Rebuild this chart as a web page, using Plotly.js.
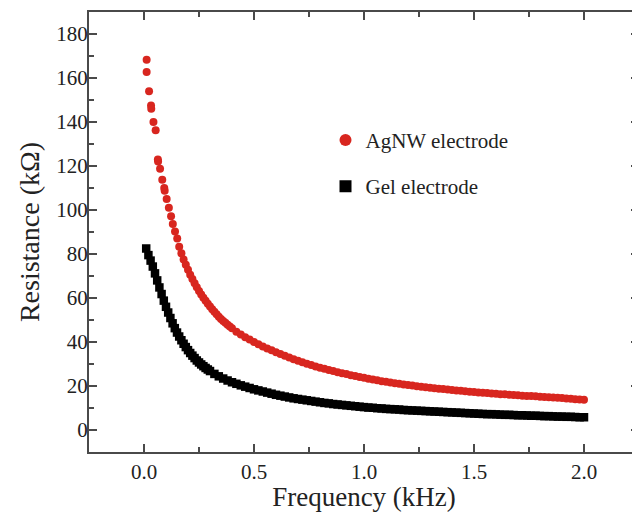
<!DOCTYPE html>
<html>
<head>
<meta charset="utf-8">
<script src="https://cdn.plot.ly/plotly-3.0.1.min.js"></script>
<style>
html,body{margin:0;padding:0;overflow:hidden;background:#fff;}
#chart{width:646px;height:512px;}
</style>
</head>
<body>
<div id="chart"></div>
<script>
// AgNW electrode (red circles)
const agnwFreq = [0.012,0.012,0.023,0.032,0.033,0.043,0.053,0.063,0.064,0.073,0.083,0.092,0.094,0.103,0.113,0.123,0.131,0.141,0.151,
0.16,0.17,0.18,0.19,0.20,0.21,0.22,0.23,0.24,0.25,0.26,0.27,0.28,0.29,0.30,0.31,0.32,0.33,0.34,0.35,0.36,0.37,0.38,0.39,0.40,
0.42,0.44,0.46,0.48,0.50,0.52,0.54,0.56,0.58,0.60,0.62,0.64,0.66,0.68,0.70,
0.72,0.74,0.76,0.78,0.80,0.82,0.84,0.86,0.88,0.90,0.92,0.94,0.96,0.98,1.00,1.02,1.04,1.06,1.08,1.10,1.12,1.14,1.16,1.18,1.20,1.22,1.24,1.26,
1.28,1.30,1.32,1.34,1.36,1.38,1.40,1.42,1.44,1.46,1.48,1.50,1.52,1.54,1.56,1.58,1.60,1.62,1.64,1.66,1.68,1.70,1.72,1.74,1.76,1.78,1.80,1.82,
1.84,1.86,1.88,1.90,1.92,1.94,1.96,1.98,2.00];
const agnwRes = [168.3,162.7,154.0,147.5,146.0,140.0,136.3,123.0,122.0,118.8,113.8,110.0,108.8,105.0,101.0,97.2,93.6,90.2,87.0,
83.3,80.3,77.5,75.1,72.8,70.6,68.6,66.7,64.9,63.2,61.6,60.1,58.7,57.4,56.1,54.9,53.7,52.6,51.5,50.5,49.6,48.7,47.8,47.0,46.2,
44.7,43.4,42.2,41.1,40.0,39.0,38.0,37.1,36.2,35.3,34.5,33.7,32.9,32.2,31.5,
30.8,30.1,29.5,28.9,28.3,27.8,27.3,26.8,26.3,25.8,25.4,24.9,24.5,24.1,23.7,23.3,22.9,22.6,22.2,21.9,21.6,21.3,21.0,20.7,20.4,20.2,19.9,19.7,
19.4,19.2,19.0,18.8,18.6,18.4,18.2,18.0,17.8,17.6,17.4,17.3,17.1,16.9,16.8,16.6,16.5,16.3,16.2,16.0,15.9,15.8,15.6,15.5,15.4,15.3,15.1,15.0,
14.9,14.8,14.7,14.5,14.3,14.2,14.0,13.9,13.8];

// Gel electrode (black squares)
const gelFreq = [0.01,0.02,0.03,0.04,0.05,0.06,0.07,0.08,0.09,0.10,0.11,0.12,0.13,0.14,0.15,0.16,0.17,0.18,0.19,0.20,
0.21,0.22,0.23,0.24,0.25,0.26,0.27,0.28,0.29,0.30,0.32,0.34,0.36,0.38,0.40,0.42,0.44,0.46,0.48,0.50,0.52,0.54,0.56,0.58,0.60,0.62,0.64,0.66,0.68,0.70,
0.72,0.74,0.76,0.78,0.80,0.82,0.84,0.86,0.88,0.90,0.92,0.94,0.96,0.98,1.00,1.02,1.04,1.06,1.08,1.10,1.12,1.14,1.16,1.18,1.20,1.22,1.24,1.26,
1.28,1.30,1.32,1.34,1.36,1.38,1.40,1.42,1.44,1.46,1.48,1.50,1.52,1.54,1.56,1.58,1.60,1.62,1.64,1.66,1.68,1.70,1.72,1.74,1.76,1.78,1.80,1.82,
1.84,1.86,1.88,1.90,1.92,1.94,1.96,1.98,2.00];
const gelRes = [82.5,79.5,77.0,74.3,71.2,68.0,64.8,61.8,58.8,56.0,53.4,50.9,48.5,46.3,44.3,42.5,40.8,39.2,37.7,36.3,
35.0,33.8,32.7,31.6,30.7,29.8,29.0,28.2,27.5,26.8,25.5,24.4,23.4,22.5,21.7,21.0,20.3,19.7,19.1,18.5,18.0,17.5,17.0,16.5,16.0,15.6,15.2,14.8,14.4,14.1,
13.8,13.5,13.2,12.9,12.6,12.3,12.1,11.8,11.6,11.4,11.2,11.0,10.8,10.6,10.4,10.2,10.1,9.9,9.8,9.6,9.5,9.4,9.3,9.1,9.0,8.9,8.8,8.7,
8.6,8.5,8.4,8.3,8.2,8.1,8.0,7.9,7.8,7.7,7.6,7.5,7.4,7.3,7.2,7.2,7.1,7.0,6.9,6.9,6.8,6.7,6.7,6.6,6.5,6.5,6.4,6.3,
6.3,6.2,6.1,6.1,6.0,6.0,5.9,5.8,5.8];

const xTickVals = [0.0, 0.5, 1.0, 1.5, 2.0];
const xTickText = ['0.0', '0.5', '1.0', '1.5', '2.0'];
const yTickVals = [0, 20, 40, 60, 80, 100, 120, 140, 160, 180];

const fam = '"Liberation Serif", serif';

const traces = [
  {
    x: agnwFreq, y: agnwRes, type: 'scatter', mode: 'markers',
    name: 'AgNW electrode', legendgroup: 'a',
    marker: {symbol: 'circle', size: 8, color: '#d8261f'}
  },
  {
    x: gelFreq, y: gelRes, type: 'scatter', mode: 'markers',
    name: 'Gel electrode', legendgroup: 'b',
    marker: {symbol: 'square', size: 8.5, color: '#000000'}
  }
];

const layout = {
  width: 646, height: 512,
  margin: {l: 89, r: 7, t: 12, b: 60},
  paper_bgcolor: '#fff', plot_bgcolor: '#fff',
  font: {family: fam, size: 21, color: '#222'},
  showlegend: true,
  legend: {
    x: 0.43, y: 0.755, xanchor: 'left', yanchor: 'top',
    bgcolor: 'rgba(0,0,0,0)', font: {family: fam, size: 21, color: '#222'},
    tracegroupgap: 16, itemsizing: 'constant'
  },
  xaxis: {
    showline: true, linecolor: '#4a4a4a', linewidth: 2, mirror: 'allticks',
    ticks: 'inside', ticklen: 8, tickwidth: 2, tickcolor: '#4a4a4a',
    showgrid: false, zeroline: false, tickfont: {family: fam, size: 21, color: '#222'},
    range: [-0.25, 2.25], tickvals: xTickVals, ticktext: xTickText,
    minor: {dtick: 0.25, ticks: 'inside', ticklen: 5, tickwidth: 1.5, tickcolor: '#4a4a4a'},
    title: {text: 'Frequency (kHz)', font: {family: fam, size: 27, color: '#222'}, standoff: 10}
  },
  yaxis: {
    showline: true, linecolor: '#4a4a4a', linewidth: 2, mirror: 'allticks',
    ticks: 'inside', ticklen: 8, tickwidth: 2, tickcolor: '#4a4a4a',
    showgrid: false, zeroline: false, tickfont: {family: fam, size: 21, color: '#222'},
    range: [-10, 190], tickvals: yTickVals, ticklabelstandoff: -5,
    minor: {dtick: 10, ticks: 'inside', ticklen: 5, tickwidth: 1.5, tickcolor: '#4a4a4a'},
    title: {text: 'Resistance (kΩ)', font: {family: fam, size: 28, color: '#222'}, standoff: 8}
  }
};

Plotly.newPlot('chart', traces, layout, {displayModeBar: false, staticPlot: true});
</script>
</body>
</html>
